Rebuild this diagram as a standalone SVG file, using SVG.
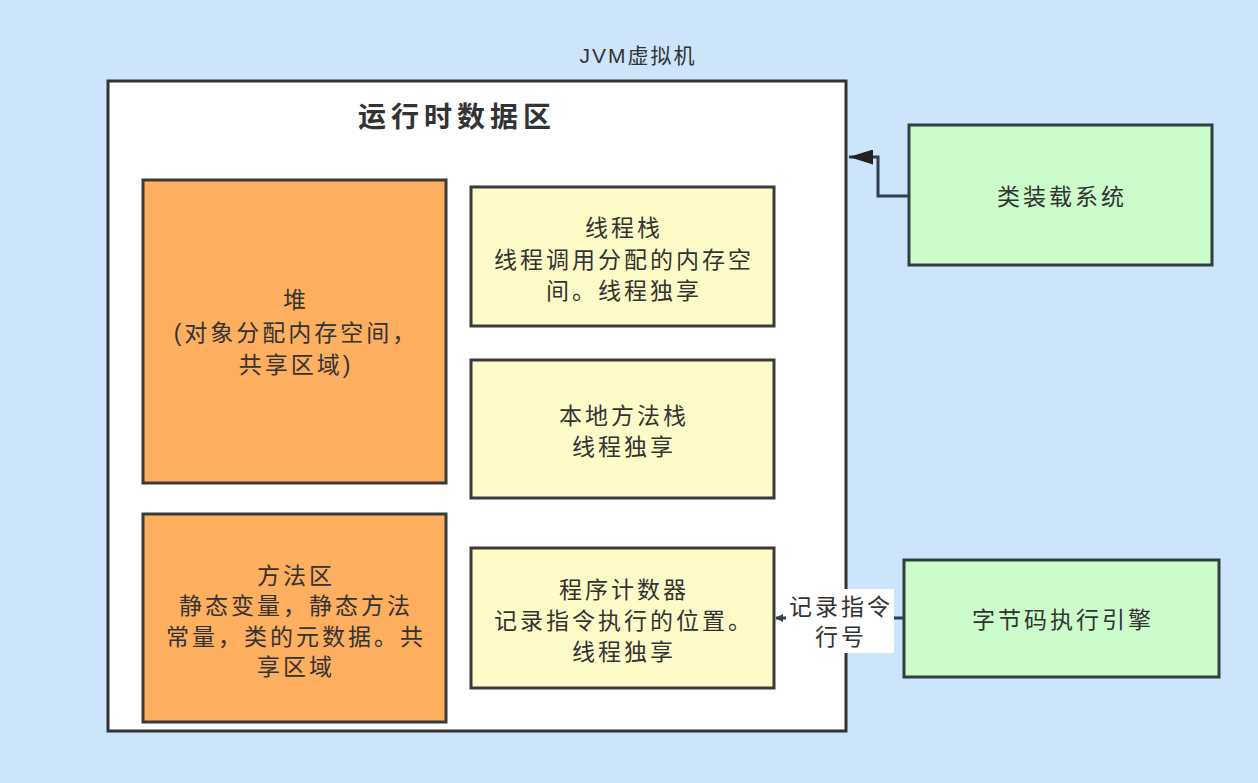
<svg xmlns="http://www.w3.org/2000/svg" width="1258" height="783" viewBox="0 0 1258 783">
<style>
.t{font-family:"Liberation Sans","Noto Sans CJK SC",sans-serif;font-size:23px;letter-spacing:3px;fill:#333;text-anchor:middle}
.org{fill:#fdae5f;stroke:#3a3a3a;stroke-width:3}
.yel{fill:#fefbc8;stroke:#3a3a3a;stroke-width:3}
.grn{fill:#ccfccb;stroke:#2f3f3f;stroke-width:3}
.ln{fill:none;stroke:#2f3f4f;stroke-width:3}
</style>
<defs>
<marker id="ah" viewBox="0 0 10 10" refX="9" refY="5" markerWidth="8" markerHeight="8" markerUnits="userSpaceOnUse" orient="auto"><path d="M0,0 L10,5 L0,10 Z" fill="#2f3f4f"/></marker>
<marker id="ah2" viewBox="0 0 10 10" refX="10" refY="5" markerWidth="24" markerHeight="15" markerUnits="userSpaceOnUse" orient="auto" preserveAspectRatio="none"><path d="M0,0 L10,5 L0,10 Z" fill="#222"/></marker>
</defs>
<rect width="1258" height="783" fill="#cce5fb"/>
<g id="jvm">
<rect x="108" y="81" width="738" height="650" fill="#fff" stroke="#333" stroke-width="3"/>
<text x="638" y="63" class="t" style="font-size:21px;letter-spacing:2px">JVM虚拟机</text>
<text x="457" y="127" class="t" style="font-size:28px;font-weight:bold;letter-spacing:5px">运行时数据区</text>
</g>
<g id="heap">
<rect x="143" y="180" width="303" height="303" class="org"/>
<text class="t" x="296" y="308">堆</text>
<text class="t" x="296" y="341">(对象分配内存空间，</text>
<text class="t" x="296" y="373">共享区域)</text>
</g>
<g id="method-area">
<rect x="143" y="514" width="303" height="208" class="org"/>
<text class="t" x="296" y="584">方法区</text>
<text class="t" x="296" y="614">静态变量，静态方法</text>
<text class="t" x="296" y="645">常量，类的元数据。共</text>
<text class="t" x="296" y="675">享区域</text>
</g>
<g id="thread-stack">
<rect x="471" y="187" width="303" height="139" class="yel"/>
<text class="t" x="624" y="236">线程栈</text>
<text class="t" x="624" y="268">线程调用分配的内存空</text>
<text class="t" x="624" y="299">间。线程独享</text>
</g>
<g id="native-stack">
<rect x="471" y="360" width="303" height="138" class="yel"/>
<text class="t" x="624" y="424">本地方法栈</text>
<text class="t" x="624" y="455">线程独享</text>
</g>
<g id="pc">
<rect x="471" y="548" width="303" height="140" class="yel"/>
<text class="t" x="624" y="598">程序计数器</text>
<text class="t" x="624" y="629">记录指令执行的位置。</text>
<text class="t" x="624" y="660">线程独享</text>
</g>
<g id="class-loader">
<rect x="909" y="125" width="303" height="140" class="grn"/>
<text class="t" x="1062" y="205">类装载系统</text>
</g>
<g id="engine">
<rect x="904" y="560" width="315" height="117" class="grn"/>
<text class="t" x="1063" y="628">字节码执行引擎</text>
</g>
<g id="connectors">
<path class="ln" d="M909,196 H878 V157 H849" marker-end="url(#ah2)"/>
<path class="ln" d="M904,618 H776" stroke-width="2" marker-end="url(#ah)"/>
<rect x="786" y="589" width="108" height="64" fill="#fff"/>
<text class="t" x="841" y="615">记录指令</text>
<text class="t" x="841" y="645">行号</text>
</g>
</svg>
